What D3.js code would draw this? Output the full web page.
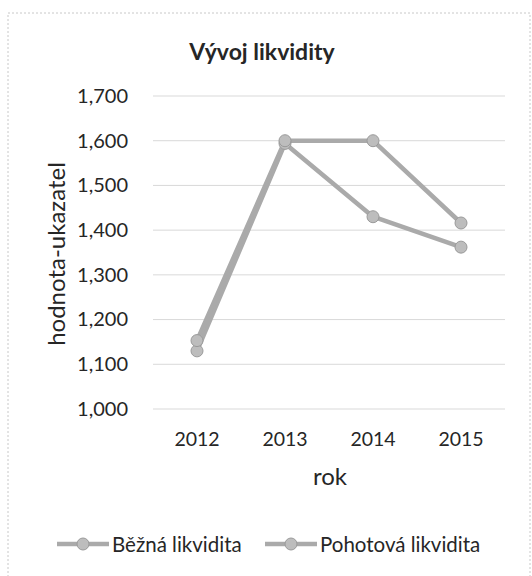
<!DOCTYPE html>
<html><head><meta charset="utf-8">
<script src="https://cdn.jsdelivr.net/npm/d3@7/dist/d3.min.js"></script>
<style>body{margin:0;background:#fff}svg{display:block}text{font-family:Lato,"Open Sans",sans-serif;fill:#262626}</style>
</head><body>
<svg id="c" width="532" height="576"></svg>
<script>
const years = ["2012","2013","2014","2015"];
const bezna = [1.153, 1.600, 1.600, 1.416];
const pohotova = [1.130, 1.594, 1.430, 1.362];
const seriesNames = ["Běžná likvidita","Pohotová likvidita"];
const yTicks = [1.0,1.1,1.2,1.3,1.4,1.5,1.6,1.7];
const title = "Vývoj likvidity";
const yTitle = "hodnota-ukazatel";
const xTitle = "rok";

const svg = d3.select("#c");
svg.append("rect").attr("x",8).attr("y",13).attr("width",522).attr("height",580)
  .attr("fill","none").attr("stroke","#c8c8c8").attr("stroke-dasharray","2,2");

const x = d3.scaleBand().domain(years).range([153,505]);
const y = d3.scaleLinear().domain([1.0,1.7]).range([409,96]);
const fmt = d3.format(",.3f");
const fmtTick = v => fmt(v).replace(".", ",");

// grid
svg.append("g").selectAll("line").data(yTicks).join("line")
  .attr("x1",153).attr("x2",505).attr("y1",d=>y(d)).attr("y2",d=>y(d))
  .attr("stroke","#d9d9d9").attr("stroke-width",1);

// y axis
const yAxis = d3.axisLeft(y).tickValues(yTicks).tickFormat(fmtTick).tickSize(0).tickPadding(25);
const gy = svg.append("g").attr("transform","translate(153,0)").call(yAxis);
gy.select(".domain").remove();
gy.selectAll("text").style("font-size","20px").attr("fill","#3a3a3a").attr("font-family","Lato, sans-serif");

// x axis
const xAxis = d3.axisBottom(x).tickSize(0).tickPadding(23);
const gx = svg.append("g").attr("transform","translate(0,409)").call(xAxis);
gx.select(".domain").remove();
gx.selectAll("text").style("font-size","19.5px").attr("fill","#3a3a3a").attr("font-family","Lato, sans-serif");

// titles
svg.append("text").attr("x",262).attr("y",60).attr("text-anchor","middle")
  .style("font-size","23px").style("font-weight","bold").text(title);
svg.append("text").attr("transform","translate(65,254) rotate(-90)").attr("text-anchor","middle")
  .style("font-size","24px").text(yTitle);
svg.append("text").attr("x",330).attr("y",485).attr("text-anchor","middle")
  .style("font-size","24px").text(xTitle);

const line = d3.line().x((d,i)=>x(years[i])+x.bandwidth()/2).y(d=>y(d));
const allSeries = [bezna, pohotova];
const lineColor = "#aaaaaa";
allSeries.slice().reverse().forEach(s=>{
  svg.append("path").datum(s).attr("d",line).attr("fill","none")
    .attr("stroke",lineColor).attr("stroke-width",4.5).attr("stroke-linejoin","round");
});
allSeries.slice().reverse().forEach(s=>{
  svg.append("g").selectAll("circle").data(s).join("circle")
    .attr("cx",(d,i)=>x(years[i])+x.bandwidth()/2).attr("cy",d=>y(d)).attr("r",6)
    .attr("fill","#bdbdbd").attr("stroke","#9a9a9a").attr("stroke-width",1);
});

// legend
const legX = [57, 265];
seriesNames.forEach((n,i)=>{
  const g = svg.append("g").attr("transform",`translate(${legX[i]},544)`);
  g.append("line").attr("x1",0).attr("x2",52).attr("y1",0).attr("y2",0)
    .attr("stroke",lineColor).attr("stroke-width",4.5);
  g.append("circle").attr("cx",26).attr("cy",0).attr("r",6).attr("fill","#bdbdbd").attr("stroke","#9a9a9a");
  g.append("text").attr("x",55).attr("y",8).style("font-size","20.5px").text(n);
});
</script>
</body></html>
